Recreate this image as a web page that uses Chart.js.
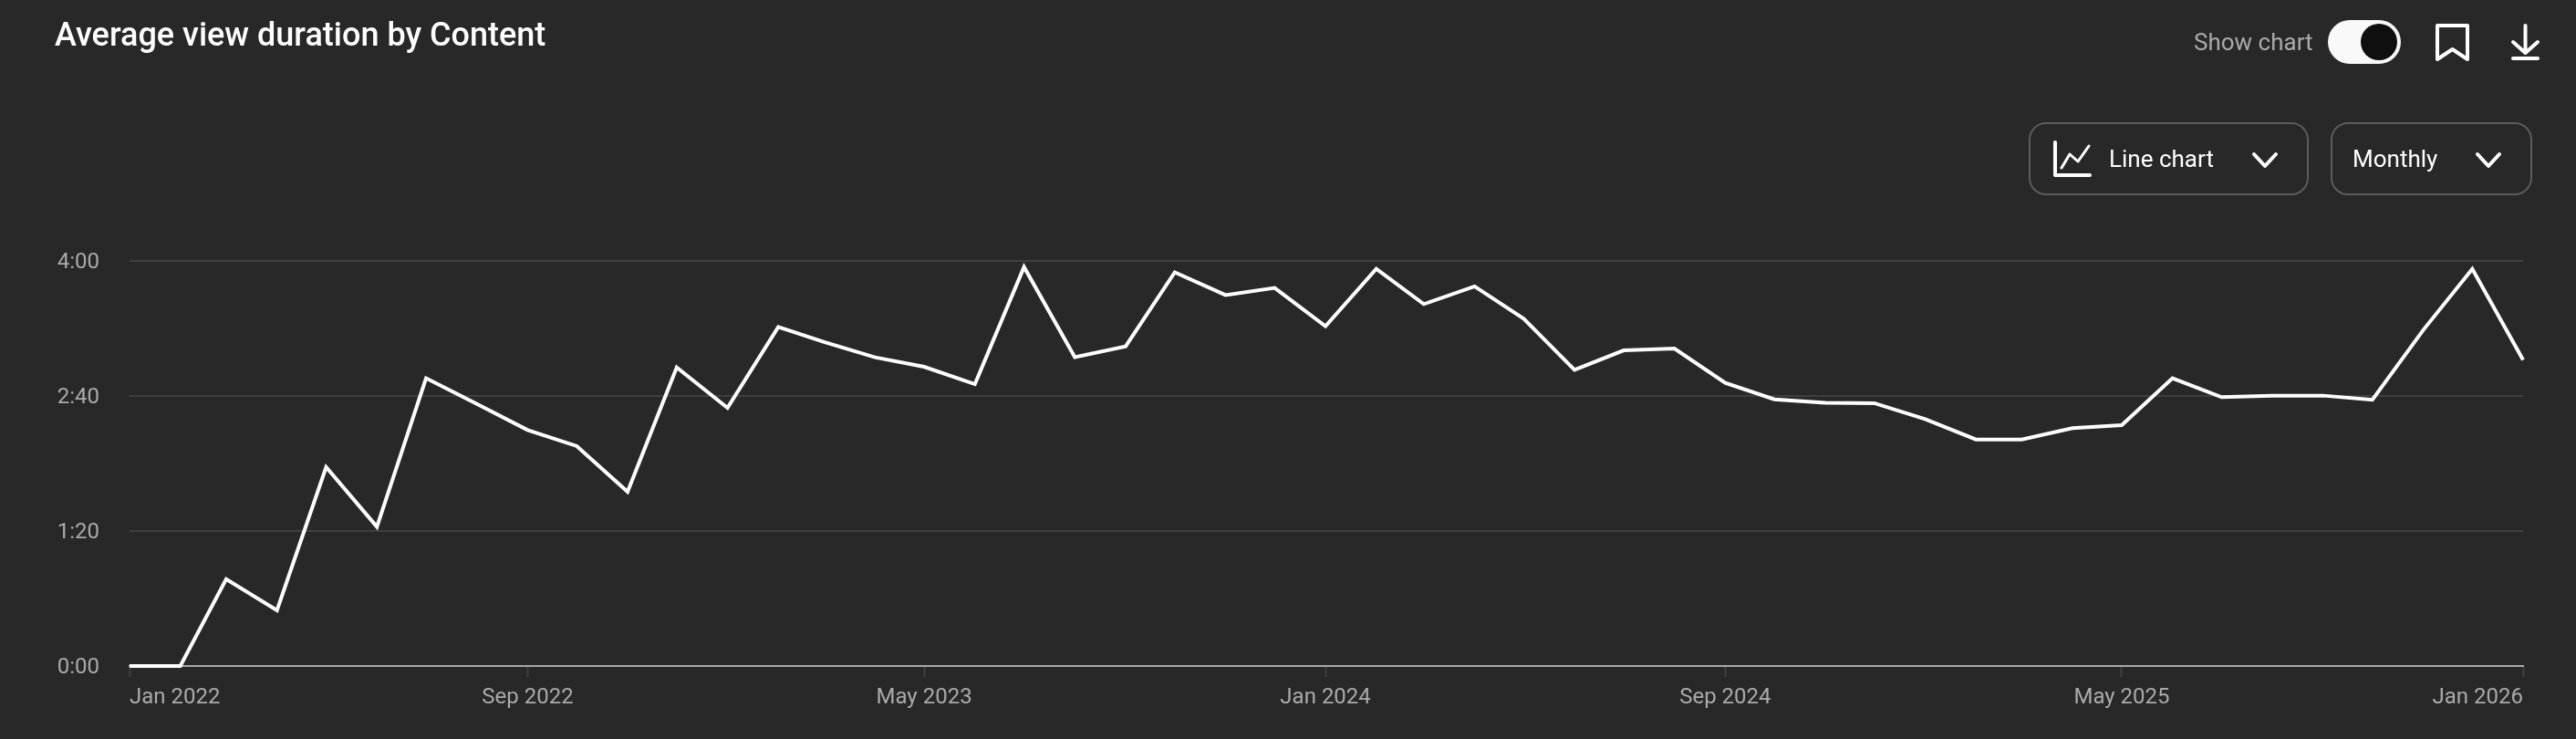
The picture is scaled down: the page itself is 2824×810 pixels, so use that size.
<!DOCTYPE html>
<html>
<head>
<meta charset="utf-8">
<title>Average view duration by Content</title>
<script src="https://cdn.jsdelivr.net/npm/chart.js@4"></script>
<style>
  html, body { margin: 0; padding: 0; background: #282828; width: 2824px; height: 810px; overflow: hidden; }
  body { position: relative; font-family: Roboto, sans-serif; }
  canvas { position: absolute; left: 0; top: 0; }
  .txt { position: absolute; white-space: nowrap; line-height: 1; }
  #title { left: 60px; top: 20px; font-size: 36px; font-weight: 500; color: #fff; }
  #show { left: 2405px; top: 33px; font-size: 26px; color: #aaa; }
  #line { left: 2312px; top: 161px; font-size: 26px; color: #fff; }
  #monthly { left: 2579px; top: 161px; font-size: 26px; color: #fff; }
  svg { position: absolute; left: 0; top: 0; }
</style>
</head>
<body>
<canvas id="myChart" width="2824" height="810"></canvas>
<div class="txt" id="title">Average view duration by Content</div>
<div class="txt" id="show">Show chart</div>
<div class="txt" id="line">Line chart</div>
<div class="txt" id="monthly">Monthly</div>
<svg width="2824" height="810" fill="none" stroke="#fff" stroke-width="4" stroke-linecap="round" stroke-linejoin="round">
  <rect x="2552" y="22" width="80" height="48" rx="24" fill="#f9f9f9" stroke="none"/>
  <circle cx="2608" cy="46" r="20" fill="#0f0f0f" stroke="none"/>
  <path d="M2672 28H2705V65L2688.500 54L2672 65Z"/>
  <path d="M2768.500 28V58M2755 46L2768.500 58L2782 46"/>
  <path d="M2755 64H2782"/>
  <rect x="2225" y="135" width="305" height="78" rx="18" stroke="#5c5c5c" stroke-width="2"/>
  <rect x="2556" y="135" width="219" height="78" rx="18" stroke="#5c5c5c" stroke-width="2"/>
  <path d="M2253 156V192H2291"/>
  <path d="M2260 184L2269 169L2278 177L2290 160" stroke-width="3"/>
  <path d="M2471 169L2483 182L2495 169"/>
  <path d="M2716 169L2728 182L2740 169"/>
</svg>
<script>
const months = ["Jan","Feb","Mar","Apr","May","Jun","Jul","Aug","Sep","Oct","Nov","Dec"]
const startYear = 2022
const monthCount = 49
const labelEvery = 8

// average view duration in seconds
const durations = [
  0, 0, 51.4, 33, 117.8, 82.5, 170.5, 155.3, 139.8, 130.3, 103.2, 176.9,
  153, 200.9, 192, 182.9, 177.3, 167, 236.4, 183, 189.4, 233.3, 219.8, 224,
  201.3, 235.3, 214.4, 224.9, 205.8, 175.5, 187, 188.1, 167.7, 158, 155.9, 155.7,
  146.3, 134.2, 134.2, 140.9, 142.7, 170.5, 159.3, 160.2, 160.2, 157.7, 199, 235.3,
  181.3
]
const yTicks = [0, 80, 160, 240]

// the x axis runs on real dates, so months are not evenly spaced
const categories = []
const dayOffsets = []
for (let i = 0; i < monthCount; i++) {
  categories.push(months[i % 12] + " " + (startYear + Math.floor(i / 12)))
  dayOffsets.push((Date.UTC(startYear, i, 1) - Date.UTC(startYear, 0, 1)) / 86400000)
}
const points = durations.map((v, i) => ({ x: dayOffsets[i], y: v }))
const xTicks = dayOffsets.filter((d, i) => i % labelEvery === 0)

const formatTime = (sec) => {
  const s = sec % 60
  return Math.floor(sec / 60) + ":" + (s < 10 ? "0" : "") + s
}

// roboto sits a bit high with a middle baseline, nudge the y labels down
const nudgeYLabels = {
  id: "nudgeYLabels",
  beforeDraw(chart) {
    const y = chart.scales.y
    const draw = y.drawLabels
    y.drawLabels = function (area) {
      y.ctx.save()
      y.ctx.translate(0, 1.5)
      draw.call(y, area)
      y.ctx.restore()
    }
  },
}

Chart.defaults.font.family = "Roboto"
Chart.defaults.font.size = 24
Chart.defaults.color = "#aaaaaa"

const ctx = document.getElementById("myChart").getContext("2d")
const myChart = new Chart(ctx, {
  type: "line",
  plugins: [nudgeYLabels],
  data: {
    datasets: [{
      data: points,
      borderColor: "#ffffff",
      borderWidth: 4,
      borderJoinStyle: "miter",
      pointRadius: 0,
      tension: 0,
      clip: false,
    }]
  },
  options: {
    responsive: false,
    animation: false,
    devicePixelRatio: 1,
    layout: { padding: { top: 286, right: 58, left: 0, bottom: 0 } },
    plugins: { legend: { display: false }, tooltip: { enabled: false } },
    scales: {
      x: {
        type: "linear",
        min: 0,
        max: dayOffsets[monthCount - 1],
        afterFit: (scale) => { scale.height = 80 },
        afterBuildTicks: (scale) => { scale.ticks = xTicks.map((v) => ({ value: v })) },
        border: { color: "#aaaaaa", width: 2 },
        grid: { drawOnChartArea: false, tickLength: 12, tickColor: "#404040", tickWidth: 2 },
        ticks: {
          autoSkip: false,
          maxRotation: 0,
          align: "inner",
          padding: 9,
          callback: (v) => categories[dayOffsets.indexOf(v)],
        },
      },
      y: {
        min: 0,
        max: 240,
        afterFit: (scale) => { scale.width = 142 },
        afterBuildTicks: (scale) => { scale.ticks = yTicks.map((v) => ({ value: v })) },
        border: { display: false },
        grid: {
          drawTicks: false,
          lineWidth: 2,
          color: (c) => (c.tick.value === 0 ? "#aaaaaa" : "#3f3f3f"),
        },
        ticks: { padding: 33, callback: (v) => formatTime(v) },
      },
    },
  },
})
</script>
</body>
</html>
